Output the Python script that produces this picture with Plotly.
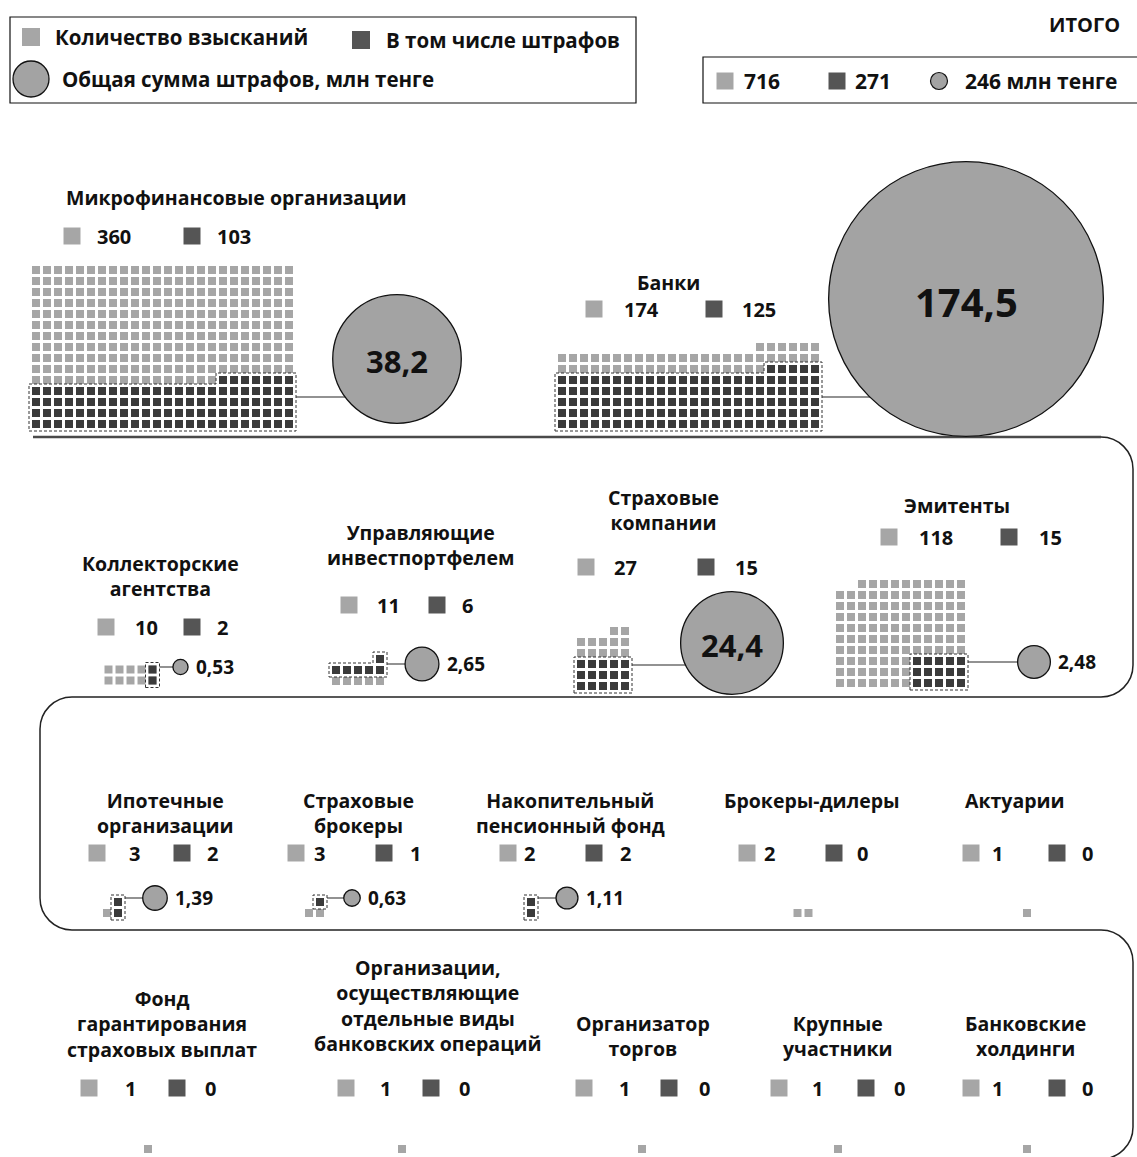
import plotly.graph_objects as go

# ---------------- DATA ----------------
CATEGORIES = [
    "Микрофинансовые организации", "Банки", "Коллекторские агентства",
    "Управляющие инвестпортфелем", "Страховые компании", "Эмитенты",
    "Ипотечные организации", "Страховые брокеры", "Накопительный пенсионный фонд",
    "Брокеры-дилеры", "Актуарии", "Фонд гарантирования страховых выплат",
    "Организации, осуществляющие отдельные виды банковских операций",
    "Организатор торгов", "Крупные участники", "Банковские холдинги",
]
SANCTIONS = [360, 174, 10, 11, 27, 118, 3, 3, 2, 2, 1, 1, 1, 1, 1, 1]
FINES = [103, 125, 2, 6, 15, 15, 2, 1, 2, 0, 0, 0, 0, 0, 0, 0]
FINE_SUM = [38.2, 174.5, 0.53, 2.65, 24.4, 2.48, 1.39, 0.63, 1.11,
            None, None, None, None, None, None, None]
TOTALS = [716, 271, 246]
LEGEND_LABELS = ["Количество взысканий", "В том числе штрафов",
                 "Общая сумма штрафов, млн тенге"]

# ---------------- LAYOUT (positions / styles) ----------------
W, H = 1137, 1157
FONT = "Open Sans"
LIGHT, DARK, LEG_DARK, CIRC = "#a6a6a6", "#3b3b3b", "#555555", "#a3a3a3"
PITCH, SQ = 11, 8
T_SIZE, N_SIZE, L_SIZE = 19.5, 20, 19

TITLE_LINES = [
    ["Микрофинансовые организации"], ["Банки"], ["Коллекторские", "агентства"],
    ["Управляющие", "инвестпортфелем"], ["Страховые", "компании"], ["Эмитенты"],
    ["Ипотечные", "организации"], ["Страховые", "брокеры"],
    ["Накопительный", "пенсионный фонд"], ["Брокеры-дилеры"], ["Актуарии"],
    ["Фонд", "гарантирования", "страховых выплат"],
    ["Организации,", "осуществляющие", "отдельные виды", "банковских операций"],
    ["Организатор", "торгов"], ["Крупные", "участники"], ["Банковские", "холдинги"],
]
# (title center x, title first/last line y, legend y, legend xs: light sq left, light num, dark sq left, dark num)
POS = [
    (236, (197, 197), 236, (63, 95, 183, 215)),
    (668, (282, 282), 309, (585, 622, 705, 740)),
    (160, (563, 588), 627, (97, 133, 183, 215)),
    (420, (533, 557), 605, (340, 375, 428, 460)),
    (663, (497, 522), 567, (577, 612, 697, 733)),
    (957, (505, 505), 537, (880, 917, 1000, 1037)),
    (165, (800, 825), 853, (88, 127, 173, 205)),
    (358, (800, 825), 853, (287, 312, 375, 408)),
    (570, (800, 825), 853, (499, 522, 585, 618)),
    (812, (800, 800), 853, (738, 762, 825, 855)),
    (1015, (800, 800), 853, (962, 990, 1048, 1080)),
    (162, (1000, 1047), 1088, (80, 123, 168, 203)),
    (428, (964, 1047), 1088, (337, 378, 422, 457)),
    (643, (1024, 1047), 1088, (575, 617, 660, 697)),
    (838, (1024, 1047), 1088, (770, 810, 857, 892)),
    (1025, (1024, 1047), 1088, (962, 990, 1048, 1080)),
]
# grid: (x of first column center, y of bottom row center, cols, dark cols, dark start row)
GRID = [
    (36, 424, 24, 24, 0), (562, 424, 24, 24, 0), (108.5, 680.5, 5, 1, 0),
    (336, 681, 5, 5, 1), (581, 686, 5, 5, 0), (840, 683, 12, 5, 0),
    (107, 913, 2, 1, 0), (309, 913, 2, 1, 1), (531, 913, 1, 1, 0),
    (797.5, 913, 2, 1, 0), (1027, 913, 1, 1, 0), (148, 1149, 1, 1, 0),
    (402, 1149, 1, 1, 0), (642, 1149, 1, 1, 0), (838, 1149, 1, 1, 0),
    (1027, 1149, 1, 1, 0),
]
# circle: (center x, center y, connector y, label inside?, label font size)
CIRCLE = [
    (397, 359, 397, True, 31), (966, 299, 397, True, 40), (180.5, 667, 667, False, L_SIZE),
    (422, 664, 664, False, L_SIZE), (732, 643, 665, True, 31), (1034, 662, 662, False, L_SIZE),
    (155, 898, 898, False, L_SIZE), (352, 898, 898, False, L_SIZE), (567, 898, 898, False, L_SIZE),
] + [None] * 7
CIRCLE_K = 20.8  # diameter = k * sqrt(value)


def fmt(v):
    return f"{v:g}".replace(".", ",")


def cells(n, cols, x0, yb):
    pts = []
    full, rem = divmod(n, cols)
    for r in range(full):
        for c in range(cols):
            pts.append((x0 + c * PITCH, yb - r * PITCH))
    for c in range(cols - rem, cols):
        pts.append((x0 + c * PITCH, yb - full * PITCH))
    return pts


fig = go.Figure()
shapes, ann = [], []


def text(x, y, s, size=18, anchor="left", color="#111"):
    ann.append(dict(x=x, y=y, xref="x", yref="y", text=s, showarrow=False,
                    xanchor=anchor, yanchor="middle", align=anchor if anchor != "right" else "right",
                    font=dict(family=FONT, size=size, color=color, weight="bold")))


light_x, light_y, dark_x, dark_y = [], [], [], []
leg_l_x, leg_l_y, leg_d_x, leg_d_y = [], [], [], []
circ_x, circ_y, circ_s = [], [], []

for i, name in enumerate(CATEGORIES):
    tx, (ty0, ty1), ly, (lsq, lnum, dsq, dnum) = POS[i]
    text(tx, (ty0 + ty1) / 2, "<br>".join(TITLE_LINES[i]), T_SIZE, "center")
    leg_l_x.append(lsq + 9); leg_l_y.append(ly)
    leg_d_x.append(dsq + 9); leg_d_y.append(ly)
    text(lnum, ly, str(SANCTIONS[i]), N_SIZE)
    text(dnum, ly, str(FINES[i]), N_SIZE)

    x0, yb, cols, dc, dr0 = GRID[i]
    for (x, y) in cells(SANCTIONS[i], cols, x0, yb):
        light_x.append(x); light_y.append(y)
    d = FINES[i]
    if d:
        xd0 = x0 + (cols - dc) * PITCH
        ydb = yb - dr0 * PITCH
        for (x, y) in cells(d, dc, xd0, ydb):
            dark_x.append(x); dark_y.append(y)
        full, rem = divmod(d, dc)
        pad, hs = 3, SQ / 2
        left = xd0 - hs - pad
        right = xd0 + (dc - 1) * PITCH + hs + pad
        bottom = ydb + hs + pad
        if full == 0:
            top = ydb - hs - pad
            left = xd0 + (dc - rem) * PITCH - hs - pad
            path = f"M{left},{bottom} L{right},{bottom} L{right},{top} L{left},{top} Z"
        elif rem == 0:
            top = ydb - (full - 1) * PITCH - hs - pad
            path = f"M{left},{bottom} L{right},{bottom} L{right},{top} L{left},{top} Z"
        else:
            top_f = ydb - (full - 1) * PITCH - hs - pad
            top_p = ydb - full * PITCH - hs - pad
            pl = xd0 + (dc - rem) * PITCH - hs - pad
            path = (f"M{left},{bottom} L{right},{bottom} L{right},{top_p} L{pl},{top_p} "
                    f"L{pl},{top_f} L{left},{top_f} Z")
        shapes.append(dict(type="path", path=path, xref="x", yref="y",
                           line=dict(color="#333", width=1, dash="3px,2px"), layer="above"))
        if FINE_SUM[i] is not None and CIRCLE[i] is not None:
            cx, cy, lyy, inside, fs = CIRCLE[i]
            dia = CIRCLE_K * FINE_SUM[i] ** 0.5
            circ_x.append(cx); circ_y.append(cy); circ_s.append(dia)
            shapes.append(dict(type="line", x0=right, x1=cx, y0=lyy, y1=lyy, xref="x", yref="y",
                               line=dict(color="#6e6e6e", width=1.5), layer="below"))
            if inside:
                text(cx, cy + 2, fmt(FINE_SUM[i]), fs, "center")
            else:
                text(cx + dia / 2 + 6, cy, fmt(FINE_SUM[i]), fs)

fig.add_trace(go.Scatter(x=light_x, y=light_y, mode="markers", hoverinfo="skip",
                         marker=dict(symbol="square", size=SQ, color=LIGHT, line=dict(width=0))))
fig.add_trace(go.Scatter(x=dark_x, y=dark_y, mode="markers", hoverinfo="skip",
                         marker=dict(symbol="square", size=SQ, color=DARK, line=dict(width=0))))
fig.add_trace(go.Scatter(x=leg_l_x, y=leg_l_y, mode="markers", hoverinfo="skip",
                         marker=dict(symbol="square", size=17, color=LIGHT, line=dict(width=0))))
fig.add_trace(go.Scatter(x=leg_d_x, y=leg_d_y, mode="markers", hoverinfo="skip",
                         marker=dict(symbol="square", size=17, color=LEG_DARK, line=dict(width=0))))
fig.add_trace(go.Scatter(x=circ_x, y=circ_y, mode="markers", hoverinfo="skip",
                         marker=dict(symbol="circle", size=circ_s, sizemode="diameter", color=CIRC,
                                     line=dict(width=1.3, color="#111"), opacity=1)))

# ---- legend box (top-left) ----
shapes.append(dict(type="rect", x0=10, x1=636, y0=17, y1=103, xref="x", yref="y",
                   line=dict(color="#111", width=1.2), layer="below"))
fig.add_trace(go.Scatter(x=[31, 361], y=[37, 40], mode="markers", hoverinfo="skip",
                         marker=dict(symbol="square", size=18, color=[LIGHT, LEG_DARK], line=dict(width=0))))
fig.add_trace(go.Scatter(x=[31], y=[79], mode="markers", hoverinfo="skip",
                         marker=dict(symbol="circle", size=36, color=CIRC, line=dict(width=1.3, color="#111"))))
text(53, 37, LEGEND_LABELS[0], 20.5)
text(384, 40, LEGEND_LABELS[1], 20.5)
text(60, 79, LEGEND_LABELS[2], 20.5)

# ---- totals box (top-right) ----
text(1122, 24, "ИТОГО", 20, "right")
shapes.append(dict(type="rect", x0=703, x1=1145, y0=57, y1=103, xref="x", yref="y",
                   line=dict(color="#111", width=1.2), layer="below"))
fig.add_trace(go.Scatter(x=[725, 837], y=[81, 81], mode="markers", hoverinfo="skip",
                         marker=dict(symbol="square", size=17, color=[LIGHT, LEG_DARK], line=dict(width=0))))
fig.add_trace(go.Scatter(x=[939], y=[81], mode="markers", hoverinfo="skip",
                         marker=dict(symbol="circle", size=17, color=CIRC, line=dict(width=1.2, color="#111"))))
text(742, 81, str(TOTALS[0]), 21)
text(853, 81, str(TOTALS[1]), 21)
text(963, 81, f"{TOTALS[2]} млн тенге", 21)

# ---- snake frame ----
r = 32
k = r * 0.5523


def corner(x0, y0, x1, y1, horiz_first):
    if horiz_first:
        return f"C{x0 + (k if x1 > x0 else -k)},{y0} {x1},{y1 - (k if y1 > y0 else -k)} {x1},{y1}"
    return f"C{x0},{y0 + (k if y1 > y0 else -k)} {x1 - (k if x1 > x0 else -k)},{y1} {x1},{y1}"


R, Lx = 1133, 40
y1, y2, y3 = 437, 697, 930
path = (f"M33,{y1} L{R - r},{y1} " + corner(R - r, y1, R, y1 + r, True) +
        f" L{R},{y2 - r} " + corner(R, y2 - r, R - r, y2, False) +
        f" L{Lx + r},{y2} " + corner(Lx + r, y2, Lx, y2 + r, True) +
        f" L{Lx},{y3 - r} " + corner(Lx, y3 - r, Lx + r, y3, False) +
        f" L{R - r},{y3} " + corner(R - r, y3, R, y3 + r, True) +
        f" L{R},{H - 30} " + corner(R, H - 30, R - r, H + 2, False))
shapes.append(dict(type="path", path=path, xref="x", yref="y",
                   line=dict(color="#222", width=1.5), layer="below"))
shapes.append(dict(type="line", x0=33, x1=R - r, y0=y1, y1=y1, xref="x", yref="y",
                   line=dict(color="#4a4a4a", width=2.6), layer="below"))

fig.update_layout(
    width=W, height=H, margin=dict(l=0, r=0, t=0, b=0),
    paper_bgcolor="white", plot_bgcolor="white", showlegend=False,
    xaxis=dict(range=[0, W], visible=False, fixedrange=True),
    yaxis=dict(range=[H, 0], visible=False, fixedrange=True),
    shapes=shapes, annotations=ann,
)
fig.write_html("out.html")
